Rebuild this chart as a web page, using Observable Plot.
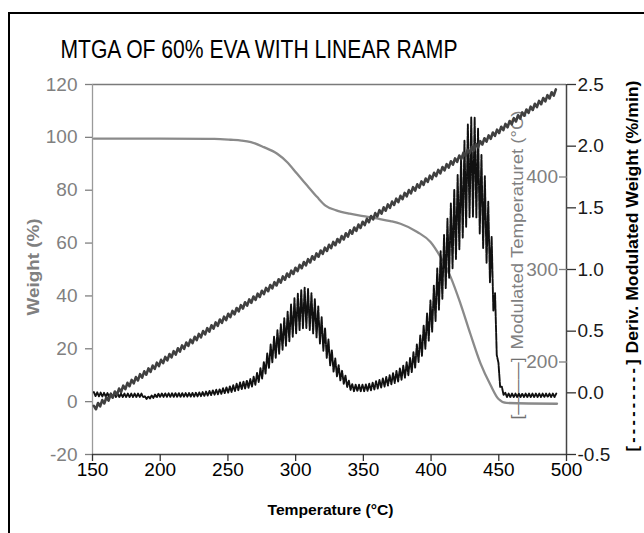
<!DOCTYPE html>
<html>
<head>
<meta charset="utf-8">
<script src="https://cdn.jsdelivr.net/npm/d3@7"></script>
<script src="https://cdn.jsdelivr.net/npm/@observablehq/plot@0.6"></script>
<style>
  body { margin: 0; background: #fff; overflow: hidden; }
  #wrap { position: relative; width: 644px; height: 533px; overflow: hidden; background: #fff; }
  #border { position: absolute; left: 7.5px; top: 11.5px; width: 700px; height: 600px; border: 2.5px solid #000; box-sizing: border-box; }
  #wrap svg { position: absolute; left: 0; top: 0; }
</style>
</head>
<body>
<div id="wrap"><div id="border"></div></div>
<script>
// ---------- data ----------
const title = "MTGA OF 60% EVA WITH LINEAR RAMP";
const xLabel = "Temperature (°C)";
const yLabel = "Weight (%)";
const tempLegend = "[———]";
const tempLabel = "Modulated Temperaturet (°C)";
const derivLegend = "[---------]";
const derivLabel = "Deriv. Modulated Weight (%/min)";

const xDomain = [150, 500];
const xTicks = [150, 200, 250, 300, 350, 400, 450, 500];
const weightDomain = [-20, 120];
const weightTicks = [-20, 0, 20, 40, 60, 80, 100, 120];
const derivDomain = [-0.5, 2.5];
const derivTicks = [-0.5, 0, 0.5, 1, 1.5, 2, 2.5];
const modTempDomain = [100, 500];
const modTempTicks = [200, 300, 400];

// Weight (%) vs temperature
const weightTemp  = [151, 200, 240, 252, 260, 267, 276.5, 286.4, 293.8, 301.1, 308.5, 315.9, 322, 330, 340, 350, 360, 370, 377.4, 389.8, 399.6, 407, 414.4, 421.7, 429.1, 436.5, 443.9, 449.8, 455.7, 493];
const weightValue = [99.5, 99.5, 99.4, 99.1, 98.8, 98.2, 96.3, 93.8, 90.6, 86.2, 81.8, 77.4, 74.2, 72.4, 71.1, 70.2, 69.3, 68.3, 67.3, 64.2, 60.4, 54.7, 47.2, 37.1, 25.5, 14.5, 6.3, 1.0, -0.5, -0.8];

// Deriv. modulated weight (%/min), centre of the modulated trace
const derivTemp  = [151, 170, 187, 189, 200, 225, 241, 252, 259, 267, 274, 284, 292.5, 300, 307, 315, 321, 328, 336, 343, 350, 363, 375, 385, 392, 400, 407, 414, 420.5, 425.5, 429, 433, 436.5, 441.5, 445, 447.5, 450, 452.5, 456, 475, 493];
const derivValue = [-0.01, -0.02, -0.02, -0.04, -0.02, -0.015, 0.005, 0.03, 0.055, 0.08, 0.15, 0.36, 0.50, 0.63, 0.69, 0.60, 0.44, 0.24, 0.11, 0.04, 0.04, 0.076, 0.135, 0.225, 0.37, 0.62, 0.93, 1.23, 1.48, 1.71, 1.83, 1.83, 1.62, 1.32, 1.0, 0.61, 0.16, 0.02, -0.02, -0.02, -0.02];

// Modulated temperature (°C) vs temperature
const modTemp      = [151, 493];
const modTempValue = [150, 493];

// ---------- helpers ----------
const FONT = "'Liberation Sans', Arial, Helvetica, sans-serif";
const weightData = weightTemp.map((t, i) => ({t, v: weightValue[i]}));
const derivData = derivTemp.map((t, i) => ({t, v: derivValue[i]}));
const modData = modTemp.map((t, i) => ({t, v: modTempValue[i]}));

// rendering style: modulated (zig-zag) trace drawn around a smooth monotone centre line
function zigzag(period, ampFn) {
  return function(context) {
    let pts = [];
    function interp(x) {
      const n = pts.length;
      if (n === 1) return pts[0][1];
      let i = 0;
      while (i < n - 2 && pts[i + 1][0] < x) i++;
      const s = [], h = [];
      for (let j = 0; j < n - 1; j++) { h[j] = pts[j+1][0] - pts[j][0]; s[j] = (pts[j+1][1] - pts[j][1]) / (h[j] || 1e-9); }
      const m = j => {
        if (j === 0) return s[0];
        if (j === n - 1) return s[n - 2];
        if (s[j-1] * s[j] <= 0) return 0;
        return 3 * (h[j-1] + h[j]) / ((2*h[j] + h[j-1]) / s[j-1] + (h[j] + 2*h[j-1]) / s[j]);
      };
      const hh = h[i] || 1e-9, t = Math.max(0, Math.min(1, (x - pts[i][0]) / hh));
      const t2 = t*t, t3 = t2*t;
      return (2*t3 - 3*t2 + 1) * pts[i][1] + (t3 - 2*t2 + t) * hh * m(i) + (-2*t3 + 3*t2) * pts[i+1][1] + (t3 - t2) * hh * m(i+1);
    }
    return {
      areaStart() {}, areaEnd() {},
      lineStart() { pts = []; },
      point(x, y) { pts.push([+x, +y]); },
      lineEnd() {
        if (!pts.length) return;
        const base = d3.max(pts, p => p[1]);
        const x0 = pts[0][0], x1 = pts[pts.length - 1][0];
        const half = period / 2;
        let k = 0;
        for (let x = x0; x <= x1 + 1e-6; x += half, k++) {
          const y = interp(x);
          const yy = y + (k % 2 ? 1 : -1) * ampFn(y, base);
          if (k === 0) context.moveTo(x, yy); else context.lineTo(x, yy);
        }
      }
    };
  };
}

const common = {
  width: 644, height: 533,
  marginLeft: 92, marginRight: 78, marginTop: 84, marginBottom: 79,
  style: {fontFamily: FONT, background: "transparent", overflow: "visible"}
};

// ---------- layer 1: weight, x axis, frame, texts ----------
const txt = (s, o) => Plot.text([s], {text: d => d, frameAnchor: "top-left", textAnchor: "middle", lineAnchor: "middle", ...o});
const main = Plot.plot({
  ...common,
  x: {domain: xDomain},
  y: {domain: weightDomain},
  marks: [
    Plot.ruleY([weightDomain[1]], {stroke: "#7a7a7a", strokeWidth: 1.5}),
    Plot.ruleX([xDomain[0]], {stroke: "#9a9a9a", strokeWidth: 1.3}),
    Plot.ruleY([weightDomain[0]], {stroke: "#444", strokeWidth: 1.5}),
    Plot.ruleX([xDomain[1]], {stroke: "#444", strokeWidth: 1.5}),
    Plot.axisY({ticks: weightTicks, tickFormat: d => String(d), tickSize: 7, tickPadding: 8, fontSize: 19, fill: "#808080", stroke: "#808080", strokeWidth: 1.3, label: null}),
    Plot.axisX({ticks: xTicks, tickFormat: d => String(d), tickSize: 7, tickPadding: 1, fontSize: 19, fill: "#000", stroke: "#333", strokeWidth: 1.3, label: null}),
    txt(title, {dx: 166.5, dy: -35, fontSize: 25, fill: "#000"}),
    txt(xLabel, {dx: 238, dy: 426, fontSize: 15, fontWeight: "bold", fill: "#000"}),
    txt(yLabel, {dx: -59, dy: 182.5, rotate: -90, fontSize: 16, fontWeight: "bold", fill: "#808080"}),
    txt(tempLegend, {dx: 425, dy: 335, rotate: -90, textAnchor: "start", fontSize: 16, fill: "#707070"}),
    txt(tempLabel, {dx: 425, dy: 265, rotate: -90, textAnchor: "start", fontSize: 17, fill: "#808080"}),
    txt(derivLegend, {dx: 540.5, dy: 367, rotate: -90, textAnchor: "start", fontSize: 16, fontWeight: "bold", fill: "#000"}),
    txt(derivLabel, {dx: 540.5, dy: 269, rotate: -90, textAnchor: "start", fontSize: 16.5, fontWeight: "bold", fill: "#000"}),
    Plot.line(weightData, {x: "t", y: "v", stroke: "#8a8a8a", strokeWidth: 2.3, curve: "monotone-x"})
  ]
});

const lengths = new Map([
  [title, [397, "spacingAndGlyphs"]],
  [xLabel, [126, "spacingAndGlyphs"]],
  [yLabel, [97, "spacingAndGlyphs"]],
  [tempLegend, [62, "spacingAndGlyphs"]],
  [tempLabel, [239, "spacingAndGlyphs"]],
  [derivLegend, [92, "spacing"]],
  [derivLabel, [273, "spacingAndGlyphs"]]
]);
main.querySelectorAll("text").forEach(t => {
  const L = lengths.get(t.textContent);
  if (L) { t.setAttribute("textLength", L[0]); t.setAttribute("lengthAdjust", L[1]); }
});

// ---------- layer 2: derivative ----------
const deriv = Plot.plot({
  ...common,
  x: {domain: xDomain, axis: null},
  y: {domain: derivDomain},
  marks: [
    Plot.axisY({anchor: "right", ticks: derivTicks, tickFormat: d => d.toFixed(1), tickSize: 9, tickPadding: 2, fontSize: 19, fill: "#1a1a1a", stroke: "#333", strokeWidth: 1.3, label: null}),
    Plot.line(derivData, {x: "t", y: "v", stroke: "#111", strokeWidth: 1.9, strokeDasharray: "7,1.2",
      curve: zigzag(3.4, (y, base) => 1.2 + 0.21 * (base - y))})
  ]
});

// ---------- layer 3: modulated temperature ----------
const temp = Plot.plot({
  ...common,
  x: {domain: xDomain, axis: null},
  y: {domain: modTempDomain},
  marks: [
    Plot.axisY({anchor: "right", ticks: modTempTicks, tickFormat: () => "", tickSize: 8, dx: -8, stroke: "#808080", strokeWidth: 1.3, label: null}),
    Plot.text(modTempTicks, {y: d => d, text: d => String(d), frameAnchor: "right", textAnchor: "end", dx: -8.5, fontSize: 19, fill: "#808080"}),
    Plot.line(modData, {x: "t", y: "v", stroke: "#404040", strokeWidth: 2.6, curve: zigzag(4.2, () => 2.4)})
  ]
});

const wrap = document.getElementById("wrap");
wrap.appendChild(main);
wrap.appendChild(deriv);
wrap.appendChild(temp);
</script>
</body>
</html>
